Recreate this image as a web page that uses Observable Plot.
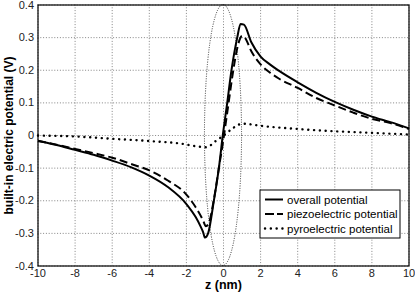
<!DOCTYPE html>
<html>
<head>
<meta charset="utf-8">
<script src="https://cdn.jsdelivr.net/npm/d3@7"></script>
<script src="https://cdn.jsdelivr.net/npm/@observablehq/plot@0.6"></script>
<style>
  html, body { margin: 0; padding: 0; background: #fff; }
  #chart svg { display: block; font-family: "Liberation Sans", Arial, sans-serif; }
</style>
</head>
<body>
<div id="chart"></div>
<script>
// ---- data ----
const overallZ = [-10, -9, -8, -7, -6, -5, -4, -3, -2, -1.5, -1.25, -1.1, -1.0, -0.83, -0.52, -0.25, -0.04, 0.2, 0.43, 0.74, 0.92, 1.1, 1.5, 2, 2.5, 3, 4, 5, 6, 7, 8, 9, 10];
const overallV = [-0.016, -0.029, -0.044, -0.059, -0.077, -0.097, -0.123, -0.158, -0.21, -0.25, -0.277, -0.296, -0.313, -0.3, -0.2, -0.1, 0, 0.1, 0.2, 0.3, 0.342, 0.34, 0.286, 0.242, 0.218, 0.198, 0.163, 0.131, 0.103, 0.079, 0.058, 0.041, 0.022];

const piezoZ = [-10, -9, -8, -7, -6, -5, -4, -3, -2, -1.5, -1.1, -0.95, -0.8, -0.5, -0.25, 0, 0.25, 0.5, 0.75, 0.9, 1.0, 1.15, 1.5, 2, 2.5, 3, 4, 5, 6, 7, 8, 9, 10];
const piezoV = [-0.017, -0.028, -0.041, -0.054, -0.068, -0.087, -0.107, -0.138, -0.181, -0.22, -0.26, -0.278, -0.27, -0.19, -0.1, -0.01, 0.09, 0.19, 0.27, 0.298, 0.305, 0.3, 0.258, 0.218, 0.193, 0.174, 0.146, 0.115, 0.092, 0.07, 0.051, 0.038, 0.02];

const pyroZ = [-10, -8, -6, -4, -2.06, -1.69, -1.33, -0.97, -0.65, -0.38, -0.07, 0.2, 0.5, 0.79, 1.15, 1.49, 1.85, 4, 6, 8, 10];
const pyroV = [0, -0.003, -0.01, -0.017, -0.027, -0.031, -0.034, -0.036, -0.028, -0.015, -0.003, 0.009, 0.022, 0.033, 0.036, 0.034, 0.031, 0.02, 0.013, 0.008, 0.003];

const seriesNames = ["overall potential", "piezoelectric potential", "pyroelectric potential"];

const xTicks = [-10, -8, -6, -4, -2, 0, 2, 4, 6, 8, 10];
const xTickLabels = ["-10", "-8", "-6", "-4", "-2", "0", "2", "4", "6", "8", "10"];
const yTicks = [-0.4, -0.3, -0.2, -0.1, 0, 0.1, 0.2, 0.3, 0.4];
const yTickLabels = ["-0.4", "-0.3", "-0.2", "-0.1", "0", "0.1", "0.2", "0.3", "0.4"];

const xLabel = "z (nm)";
const yLabel = "built-in electric potential (V)";

// ellipse marking the region around z = 0 (center and semi-axes in data units)
const ellipseCenter = [0, 0];
const ellipseRadii = [1, 0.4];

// ---- build tables ----
const toRows = (zs, vs) => zs.map((z, i) => ({z, v: vs[i]}));
const overall = toRows(overallZ, overallV);
const piezo = toRows(piezoZ, piezoV);
const pyro = toRows(pyroZ, pyroV);

const styles = [
  {stroke: "#000", strokeWidth: 2, strokeDasharray: null, linecap: "butt"},
  {stroke: "#000", strokeWidth: 2, strokeDasharray: "8,4", linecap: "butt"},
  {stroke: "#000", strokeWidth: 2.4, strokeDasharray: "0.1,5.7", linecap: "round"}
];

const xFmt = d => xTickLabels[xTicks.indexOf(d)];
const yFmt = d => yTickLabels[yTicks.findIndex(t => Math.abs(t - d) < 1e-9)];

// ellipse mark drawn with the plot's scales
function ellipseMark(index, scales) {
  const cx = scales.x(ellipseCenter[0]);
  const cy = scales.y(ellipseCenter[1]);
  const rx = Math.abs(scales.x(ellipseCenter[0] + ellipseRadii[0]) - cx);
  const ry = Math.abs(scales.y(ellipseCenter[1] + ellipseRadii[1]) - cy);
  const g = d3.create("svg:g");
  g.append("ellipse")
    .attr("cx", cx).attr("cy", cy).attr("rx", rx).attr("ry", ry)
    .attr("fill", "none").attr("stroke", "#222").attr("stroke-width", 0.9)
    .attr("stroke-dasharray", "1,1.4");
  return g.node();
}

// legend box drawn inside the frame
function legendMark(index, scales, values, dims) {
  const x0 = dims.width - dims.marginRight - 148.5;
  const y0 = dims.marginTop + 185.5;
  const g = d3.create("svg:g").attr("text-anchor", "start");
  g.append("rect").attr("x", x0).attr("y", y0).attr("width", 140).attr("height", 48)
    .attr("fill", "#fff").attr("stroke", "#000").attr("stroke-width", 1);
  seriesNames.forEach((name, i) => {
    const yy = y0 + 9.5 + i * 14.5;
    const s = styles[i];
    g.append("line").attr("x1", x0 + 5).attr("x2", x0 + 23).attr("y1", yy).attr("y2", yy)
      .attr("stroke", s.stroke).attr("stroke-width", s.strokeWidth)
      .attr("stroke-dasharray", i === 1 ? "9,3" : s.strokeDasharray)
      .attr("stroke-linecap", s.linecap);
    g.append("text").attr("x", x0 + 27).attr("y", yy).attr("dy", "0.36em")
      .attr("text-anchor", "start")
      .attr("font-size", 11.5).attr("fill", "#000").text(name);
  });
  return g.node();
}

const lineOpts = (i) => ({
  x: "z", y: "v", curve: "monotone-x",
  stroke: styles[i].stroke, strokeWidth: styles[i].strokeWidth,
  strokeDasharray: styles[i].strokeDasharray, strokeLinecap: styles[i].linecap
});

const chart = Plot.plot({
  width: 415,
  height: 293,
  marginLeft: 37.5,
  marginRight: 6.5,
  marginTop: 4.5,
  marginBottom: 27.5,
  style: {fontFamily: "Liberation Sans, Arial, sans-serif", background: "#fff"},
  x: {domain: [-10, 10]},
  y: {domain: [-0.4, 0.4]},
  marks: [
    Plot.gridX(xTicks, {stroke: "#777", strokeOpacity: 1, strokeWidth: 0.9, strokeDasharray: "1,1.8"}),
    Plot.gridY(yTicks, {stroke: "#777", strokeOpacity: 1, strokeWidth: 0.9, strokeDasharray: "1,1.8"}),
    ellipseMark,
    Plot.line(pyro, lineOpts(2)),
    Plot.line(piezo, lineOpts(1)),
    Plot.line(overall, lineOpts(0)),
    Plot.axisX({ticks: xTicks, tickFormat: xFmt, tickSize: 0, tickPadding: 3, fontSize: 11, fill: "#222", label: null}),
    Plot.axisY({ticks: yTicks, tickFormat: yFmt, tickSize: 0, tickPadding: 4, fontSize: 11, fill: "#222", label: null}),
    Plot.frame({stroke: "#000", strokeWidth: 1.2}),
    legendMark,
    Plot.text([xLabel], {frameAnchor: "bottom", dy: 19, text: d => d, fontSize: 12.5, fontWeight: "bold", fill: "#000", lineAnchor: "middle", textAnchor: "middle"}),
    Plot.text([yLabel], {frameAnchor: "left", dx: -29, rotate: -90, text: d => d, fontSize: 12, fontWeight: "bold", fill: "#000", lineAnchor: "middle", textAnchor: "middle"})
  ]
});

document.getElementById("chart").appendChild(chart);
</script>
</body>
</html>
